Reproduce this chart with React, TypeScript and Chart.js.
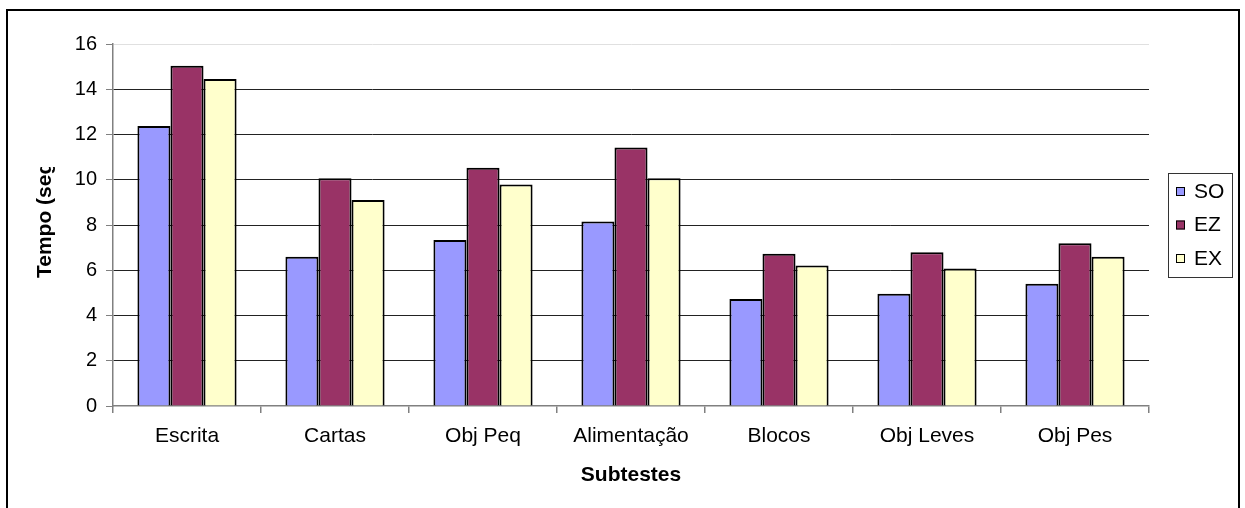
import React, { useEffect, useRef } from "react";
import { Chart, registerables } from "chart.js";

Chart.register(...registerables);

const categories = ["Escrita", "Cartas", "Obj Peq", "Alimentação", "Blocos", "Obj Leves", "Obj Pes"];
const seriesNames = ["SO", "EZ", "EX"];
const soValues = [12.38, 6.6, 7.34, 8.15, 4.73, 4.96, 5.4];
const ezValues = [15.04, 10.07, 10.53, 11.42, 6.73, 6.8, 7.19];
const exValues = [14.45, 9.11, 9.79, 10.07, 6.21, 6.08, 6.6];
const seriesColors = ["#9999FF", "#993366", "#FFFFCC"];
const yTicks = [0, 2, 4, 6, 8, 10, 12, 14, 16];
const yTitle = "Tempo (seg)";
const xTitle = "Subtestes";

const FONT = '"Liberation Sans", Arial, sans-serif';

const framePlugin = {
  id: "frameAndExtras",
  beforeDraw(chart: any) {
    const ctx = chart.ctx;
    ctx.save();
    ctx.fillStyle = "#ffffff";
    ctx.fillRect(0, 0, chart.width, chart.height);
    ctx.restore();
  },
  afterDraw(chart: any) {
    const ctx = chart.ctx;
    // outer frame
    ctx.save();
    ctx.strokeStyle = "#000";
    ctx.lineWidth = 2;
    ctx.strokeRect(7, 10, 1232, 520);
    ctx.restore();

    // y title (clipped like the original)
    ctx.save();
    ctx.beginPath();
    ctx.rect(0, 167, 110, 320);
    ctx.clip();
    ctx.translate(51, 278);
    ctx.rotate(-Math.PI / 2);
    ctx.font = "bold 21px " + FONT;
    ctx.fillStyle = "#000";
    ctx.textAlign = "left";
    ctx.textBaseline = "alphabetic";
    ctx.fillText(yTitle, 0, 0);
    ctx.restore();

    // legend
    ctx.save();
    ctx.strokeStyle = "#333";
    ctx.lineWidth = 1;
    ctx.strokeRect(1168.5, 173.5, 64, 104);
    const ys = [191, 224.5, 258];
    chart.data.datasets.forEach((ds: any, i: number) => {
      const y = ys[i];
      ctx.fillStyle = ds.backgroundColor;
      ctx.fillRect(1176, y - 4, 9, 9);
      ctx.strokeStyle = "#000";
      ctx.lineWidth = 1;
      ctx.strokeRect(1176.5, y - 3.5, 8, 8);
      ctx.fillStyle = "#000";
      ctx.font = "21px " + FONT;
      ctx.textAlign = "left";
      ctx.textBaseline = "middle";
      ctx.fillText(ds.label, 1194, y + 1);
    });
    ctx.restore();
  },
};

export default function App() {
  const ref = useRef<HTMLCanvasElement | null>(null);
  useEffect(() => {
    document.body.style.margin = "0";
    const canvas = ref.current;
    if (!canvas) return;
    const chart = new Chart(canvas, {
      type: "bar",
      data: {
        labels: categories,
        datasets: [soValues, ezValues, exValues].map((vals, i) => ({
          label: seriesNames[i],
          data: vals,
          backgroundColor: seriesColors[i],
          borderColor: "#000",
          borderWidth: 2,
          categoryPercentage: 0.67,
          barPercentage: 1,
        })),
      },
      options: {
        animation: false,
        responsive: false,
        maintainAspectRatio: false,
        layout: { padding: { left: 0, top: 44, right: 96, bottom: 0 } },
        plugins: {
          legend: { display: false },
          tooltip: { enabled: false },
        },
        scales: {
          x: {
            offset: true,
            grid: {
              offset: true,
              drawOnChartArea: false,
              drawTicks: true,
              tickLength: 7,
              tickColor: "#808080",
              lineWidth: 1.5,
            },
            border: { display: true, color: "#808080", width: 1.5 },
            ticks: {
              color: "#000",
              font: { family: FONT, size: 21 },
              padding: 11,
              maxRotation: 0,
              autoSkip: false,
            },
            title: {
              display: true,
              text: xTitle,
              color: "#000",
              font: { family: FONT, size: 21, weight: "bold" },
              padding: { top: 0, bottom: 20 },
            },
            afterFit(scale: any) {
              scale.height = 102;
            },
          },
          y: {
            min: 0,
            max: 16,
            afterBuildTicks(scale: any) {
              scale.ticks = yTicks.map((v) => ({ value: v }));
            },
            grid: {
              color: (c: any) => (c.tick && c.tick.value === 16 ? "#e0e0e0" : c.tick && c.tick.value === 0 ? "rgba(0,0,0,0)" : "#222"),
              tickColor: "#808080",
              lineWidth: 1,
              tickLength: 7,
            },
            border: { display: true, color: "#808080", width: 1.5 },
            ticks: {
              color: "#000",
              font: { family: FONT, size: 20 },
              padding: 9,
            },
            afterFit(scale: any) {
              scale.width = 113;
            },
          },
        },
      },
      plugins: [framePlugin],
    });
    return () => chart.destroy();
  }, []);
  return <canvas ref={ref} width={1245} height={508} style={{ display: "block", width: 1245, height: 508 }} />;
}
